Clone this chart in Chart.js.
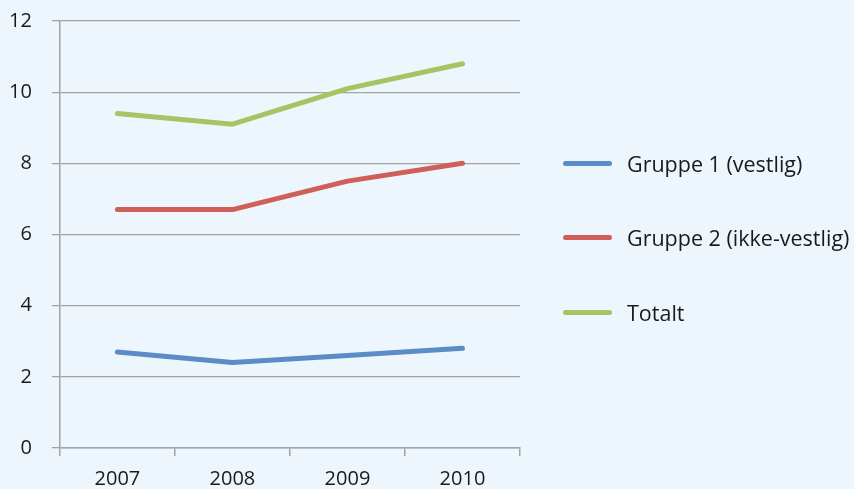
<!DOCTYPE html>
<html>
<head>
<meta charset="utf-8">
<title>Gruppe 1 og 2</title>
<script src="https://cdn.jsdelivr.net/npm/chart.js@4/dist/chart.umd.min.js"></script>
<style>
    html, body {
        margin: 0;
        padding: 0;
        background: #eef6fd;
    }
    #wrap {
        position: relative;
        width: 854px;
        height: 489px;
        overflow: hidden;
    }
    #chart {
        position: absolute;
        left: 0;
        top: 0;
    }
    #legend {
        position: absolute;
        left: 563px;
        top: 149px;
        margin: 0;
        padding: 0;
        list-style: none;
        font-family: "Open Sans", sans-serif;
        font-size: 21.5px;
        color: #1a1a1a;
    }
    #legend li {
        display: flex;
        align-items: center;
        height: 28px;
        margin-bottom: 46.5px;
        white-space: nowrap;
    }
    #legend .swatch {
        width: 49px;
        height: 5px;
        border-radius: 3px;
        margin-right: 15px;
    }
</style>
</head>
<body>
<div id="wrap">
    <canvas id="chart" width="854" height="489"></canvas>
    <ul id="legend"></ul>
</div>
<script>
// Data
const years = ["2007", "2008", "2009", "2010"];
const gruppe1 = [2.7, 2.4, 2.6, 2.8];
const gruppe2 = [6.7, 6.7, 7.5, 8.0];
const totalt = [9.4, 9.1, 10.1, 10.8];
const seriesNames = ["Gruppe 1 (vestlig)", "Gruppe 2 (ikke-vestlig)", "Totalt"];
const yTicks = [0, 2, 4, 6, 8, 10, 12];

const seriesColors = ["#5b8cc8", "#cf5f58", "#a6c464"];
const gridColor = "#a3a3a3";
const textColor = "#1a1a1a";
const xTickFont = { family: "'Open Sans', sans-serif", size: 20, lineHeight: 1.0 };
// tiny lineHeight so the top label doesn't push the plot area down
const yTickFont = { family: "'Open Sans', sans-serif", size: 20, lineHeight: 0.1 };

function makeDataset(name, values, color) {
    return {
        label: name,
        data: values,
        borderColor: color,
        backgroundColor: color,
        borderWidth: 5,
        borderCapStyle: "round",
        borderJoinStyle: "round",
        pointRadius: 0,
        tension: 0,
        fill: false
    };
}

const chart = new Chart(document.getElementById("chart").getContext("2d"), {
    type: "line",
    data: {
        labels: years,
        datasets: [
            makeDataset(seriesNames[0], gruppe1, seriesColors[0]),
            makeDataset(seriesNames[1], gruppe2, seriesColors[1]),
            makeDataset(seriesNames[2], totalt, seriesColors[2])
        ]
    },
    options: {
        responsive: false,
        animation: false,
        layout: {
            // negative left/bottom: Chart.js reserves tick padding twice
            padding: { left: -11, right: 334, top: 21, bottom: -13 }
        },
        scales: {
            x: {
                offset: true,
                grid: {
                    offset: true,
                    drawOnChartArea: false,
                    color: gridColor,
                    lineWidth: 1.5,
                    tickLength: 8
                },
                border: { color: gridColor, width: 1.5 },
                ticks: { font: xTickFont, color: textColor, padding: 13 }
            },
            y: {
                min: yTicks[0],
                max: yTicks[yTicks.length - 1],
                afterBuildTicks: scale => {
                    scale.ticks = yTicks.map(v => ({ value: v }));
                },
                grid: {
                    color: gridColor,
                    lineWidth: 1.3,
                    tickLength: 8
                },
                border: { color: gridColor, width: 1.5 },
                ticks: { font: yTickFont, color: textColor, padding: 20 }
            }
        },
        plugins: {
            legend: { display: false },
            tooltip: { enabled: false }
        }
    }
});

// HTML legend built from the chart's datasets
const legendEl = document.getElementById("legend");
chart.data.datasets.forEach(ds => {
    const li = document.createElement("li");
    const swatch = document.createElement("span");
    swatch.className = "swatch";
    swatch.style.background = ds.borderColor;
    const text = document.createElement("span");
    text.textContent = ds.label;
    li.appendChild(swatch);
    li.appendChild(text);
    legendEl.appendChild(li);
});
</script>
</body>
</html>
